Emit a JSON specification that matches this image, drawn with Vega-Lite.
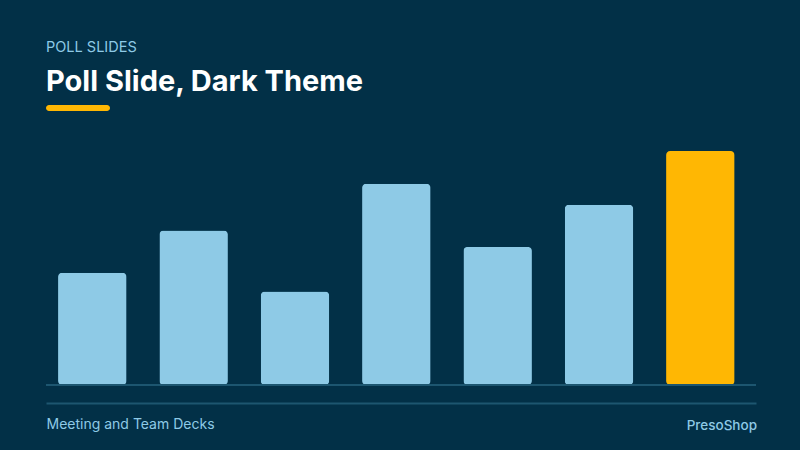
{
  "$schema": "https://vega.github.io/schema/vega-lite/v6.json",
  "background": "#023047",
  "padding": {"left": 45, "right": 45, "top": 39, "bottom": 24},
  "spacing": 40,
  "vconcat": [
    {
      "width": 64,
      "height": 6,
      "title": {
        "text": "POLL SLIDES",
        "subtitle": "Poll Slide, Dark Theme",
        "anchor": "start",
        "fontSize": 14.5,
        "fontWeight": "normal",
        "color": "#8ecae6",
        "subtitleFontSize": 29,
        "subtitleFontWeight": "bold",
        "subtitleColor": "#ffffff",
        "subtitlePadding": 13,
        "offset": 7
      },
      "data": {"values": [{"start": 0, "end": 1}]},
      "mark": {"type": "rect", "color": "#ffb703", "cornerRadius": 3},
      "encoding": {
        "x": {"field": "start", "type": "quantitative", "scale": {"domain": [0, 1]}, "axis": null},
        "x2": {"field": "end"},
        "y": {"field": "start", "type": "quantitative", "scale": {"domain": [0, 1]}, "axis": null},
        "y2": {"field": "end"}
      }
    },
    {
      "width": 710,
      "height": 234,
      "title": {
        "text": "PresoShop",
        "orient": "bottom",
        "anchor": "end",
        "offset": -12,
        "fontSize": 13.5,
        "fontWeight": 500,
        "color": "#8ecae6"
      },
      "data": {
        "values": [
          {"option": "Option A", "votes": 24},
          {"option": "Option B", "votes": 33},
          {"option": "Option C", "votes": 20},
          {"option": "Option D", "votes": 43},
          {"option": "Option E", "votes": 29.5},
          {"option": "Option F", "votes": 38.5},
          {"option": "Option G", "votes": 50}
        ]
      },
      "encoding": {
        "x": {
          "field": "option",
          "type": "nominal",
          "sort": null,
          "scale": {"paddingInner": 0.324, "paddingOuter": 0.165, "align": 0.36},
          "axis": {
            "title": "Meeting and Team Decks",
            "titleAnchor": "start",
            "labels": false,
            "ticks": false,
            "domainColor": "#1d5670",
            "domainWidth": 2,
            "offset": 18,
            "titleColor": "#8ecae6",
            "titleFontSize": 14,
            "titleFontWeight": "normal",
            "titlePadding": 14
          }
        },
        "y": {
          "field": "votes",
          "type": "quantitative",
          "scale": {"domain": [0, 50]},
          "axis": null
        }
      },
      "layer": [
        {
          "mark": {"type": "bar", "cornerRadius": 4},
          "encoding": {
            "color": {
              "condition": {"test": "datum.option === 'Option G'", "value": "#ffb703"},
              "value": "#8ecae6"
            }
          }
        },
        {
          "mark": {"type": "rule", "color": "#1d5670", "strokeWidth": 2},
          "encoding": {
            "x": null,
            "y": {"datum": 0, "type": "quantitative", "axis": null}
          }
        }
      ]
    }
  ],
  "config": {
    "font": "Inter",
    "view": {"stroke": null}
  }
}
